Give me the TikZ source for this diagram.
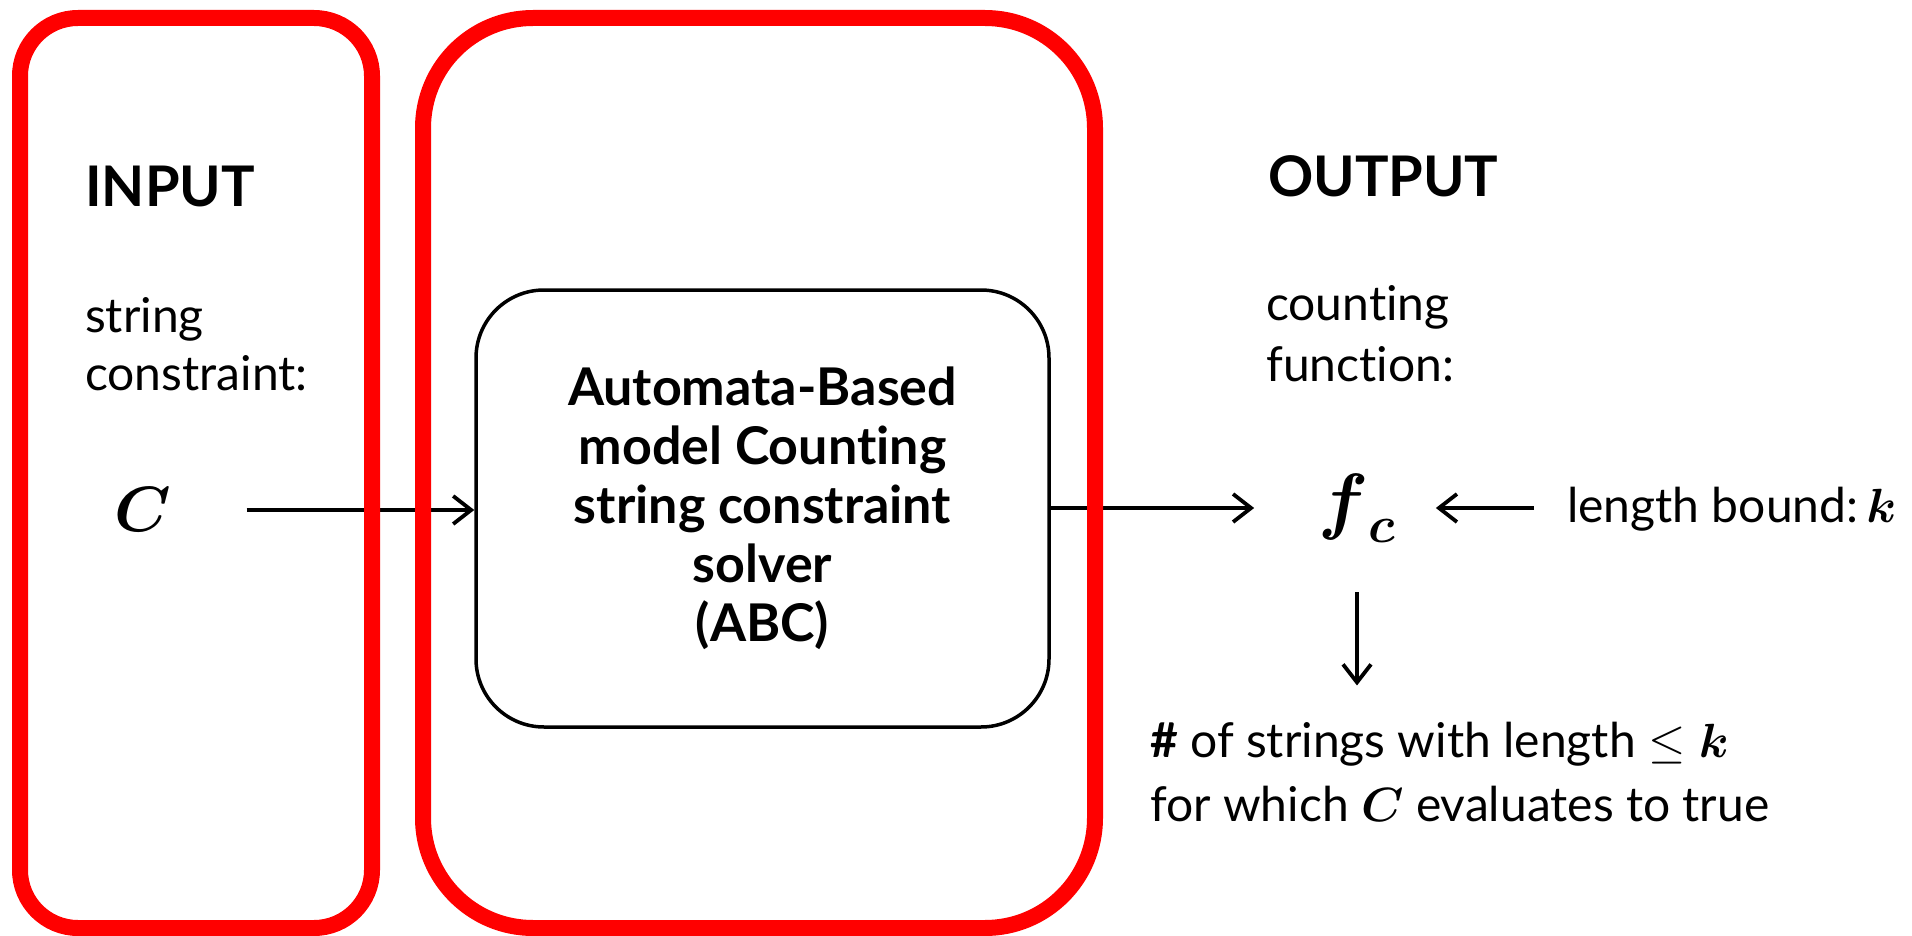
\RequirePackage{fix-cm}
\documentclass[tikz,border=0pt]{standalone}
\usepackage{amsmath}
\usepackage{fontspec}
\setmainfont{Lato}[Ligatures=NoCommon]
\usetikzlibrary{arrows.meta,calc}
\begin{document}
\begin{tikzpicture}[x=1pt,y=-1pt,
  redbox/.style={draw=red, line width=16pt, inner sep=0pt, outer sep=0pt},
  solverbox/.style={draw=black, line width=3.5pt, rounded corners=68pt, minimum width=573pt, minimum height=437pt, align=center, font=\fontsize{52}{59}\selectfont\bfseries, inner sep=0pt},
  head/.style={anchor=base west, font=\fontsize{56}{60}\selectfont\bfseries, inner sep=0pt},
  txt/.style={anchor=base west, font=\fontsize{48}{60}\selectfont, inner sep=0pt},
  mathsym/.style={font=\fontsize{64}{70}\selectfont, inner sep=0pt},
  arr/.style={line width=3.8pt, -{Straight Barb[length=18pt,width=28pt]}},
]
\useasboundingbox (0,0) rectangle (1912,936);
% solver box
\node[solverbox] (abc) at (762.5,508.5) {Automata-Based\\model Counting\\string constraint\\solver\\(ABC)};
% input side
\node[head] (inhead) at (85,207) {INPUT};
\node[txt] (in1) at (85,332) {string};
\node[txt] (in2) at (85,390) {constraint:};
\node[mathsym] (C) at (143,510) {$\boldsymbol{C}$};
% output side
\node[head] (outhead) at (1268,197) {OUTPUT};
\node[txt] (out1) at (1266,320) {counting};
\node[txt] (out2) at (1266,381) {function:};
\node[mathsym, font=\fontsize{74}{80}\selectfont] (fc) at (1357,508) {$\boldsymbol{f}_{\boldsymbol{c}}$};
\node[txt] (len) at (1567,522) {length bound:\,$\boldsymbol{k}$};
\node[txt] (cnt1) at (1150,757) {\textbf{\#} of strings with length $\leq \boldsymbol{k}$};
\node[txt] (cnt2) at (1150,821) {for which $\boldsymbol{C}$ evaluates to true};
% connectors
\draw[arr, shorten <=75pt] (C.east) -- (C.east -| abc.west);
\draw[arr, shorten >=64pt] (abc.east |- fc) -- (fc.west);
\draw[arr, shorten <=33pt, shorten >=40pt] (len.west |- fc) -- (fc.east);
\draw[arr, shorten <=50pt, shorten >=36pt] (fc.south) -- (fc.south |- cnt1.north);
% red grouping boxes
\node[redbox, rounded corners=58pt, minimum width=352pt, minimum height=910pt] (inbox) at (196,473) {};
\node[redbox, rounded corners=110pt, minimum width=672pt, minimum height=910pt] (solvergroup) at (759,473) {};
\end{tikzpicture}
\end{document}
